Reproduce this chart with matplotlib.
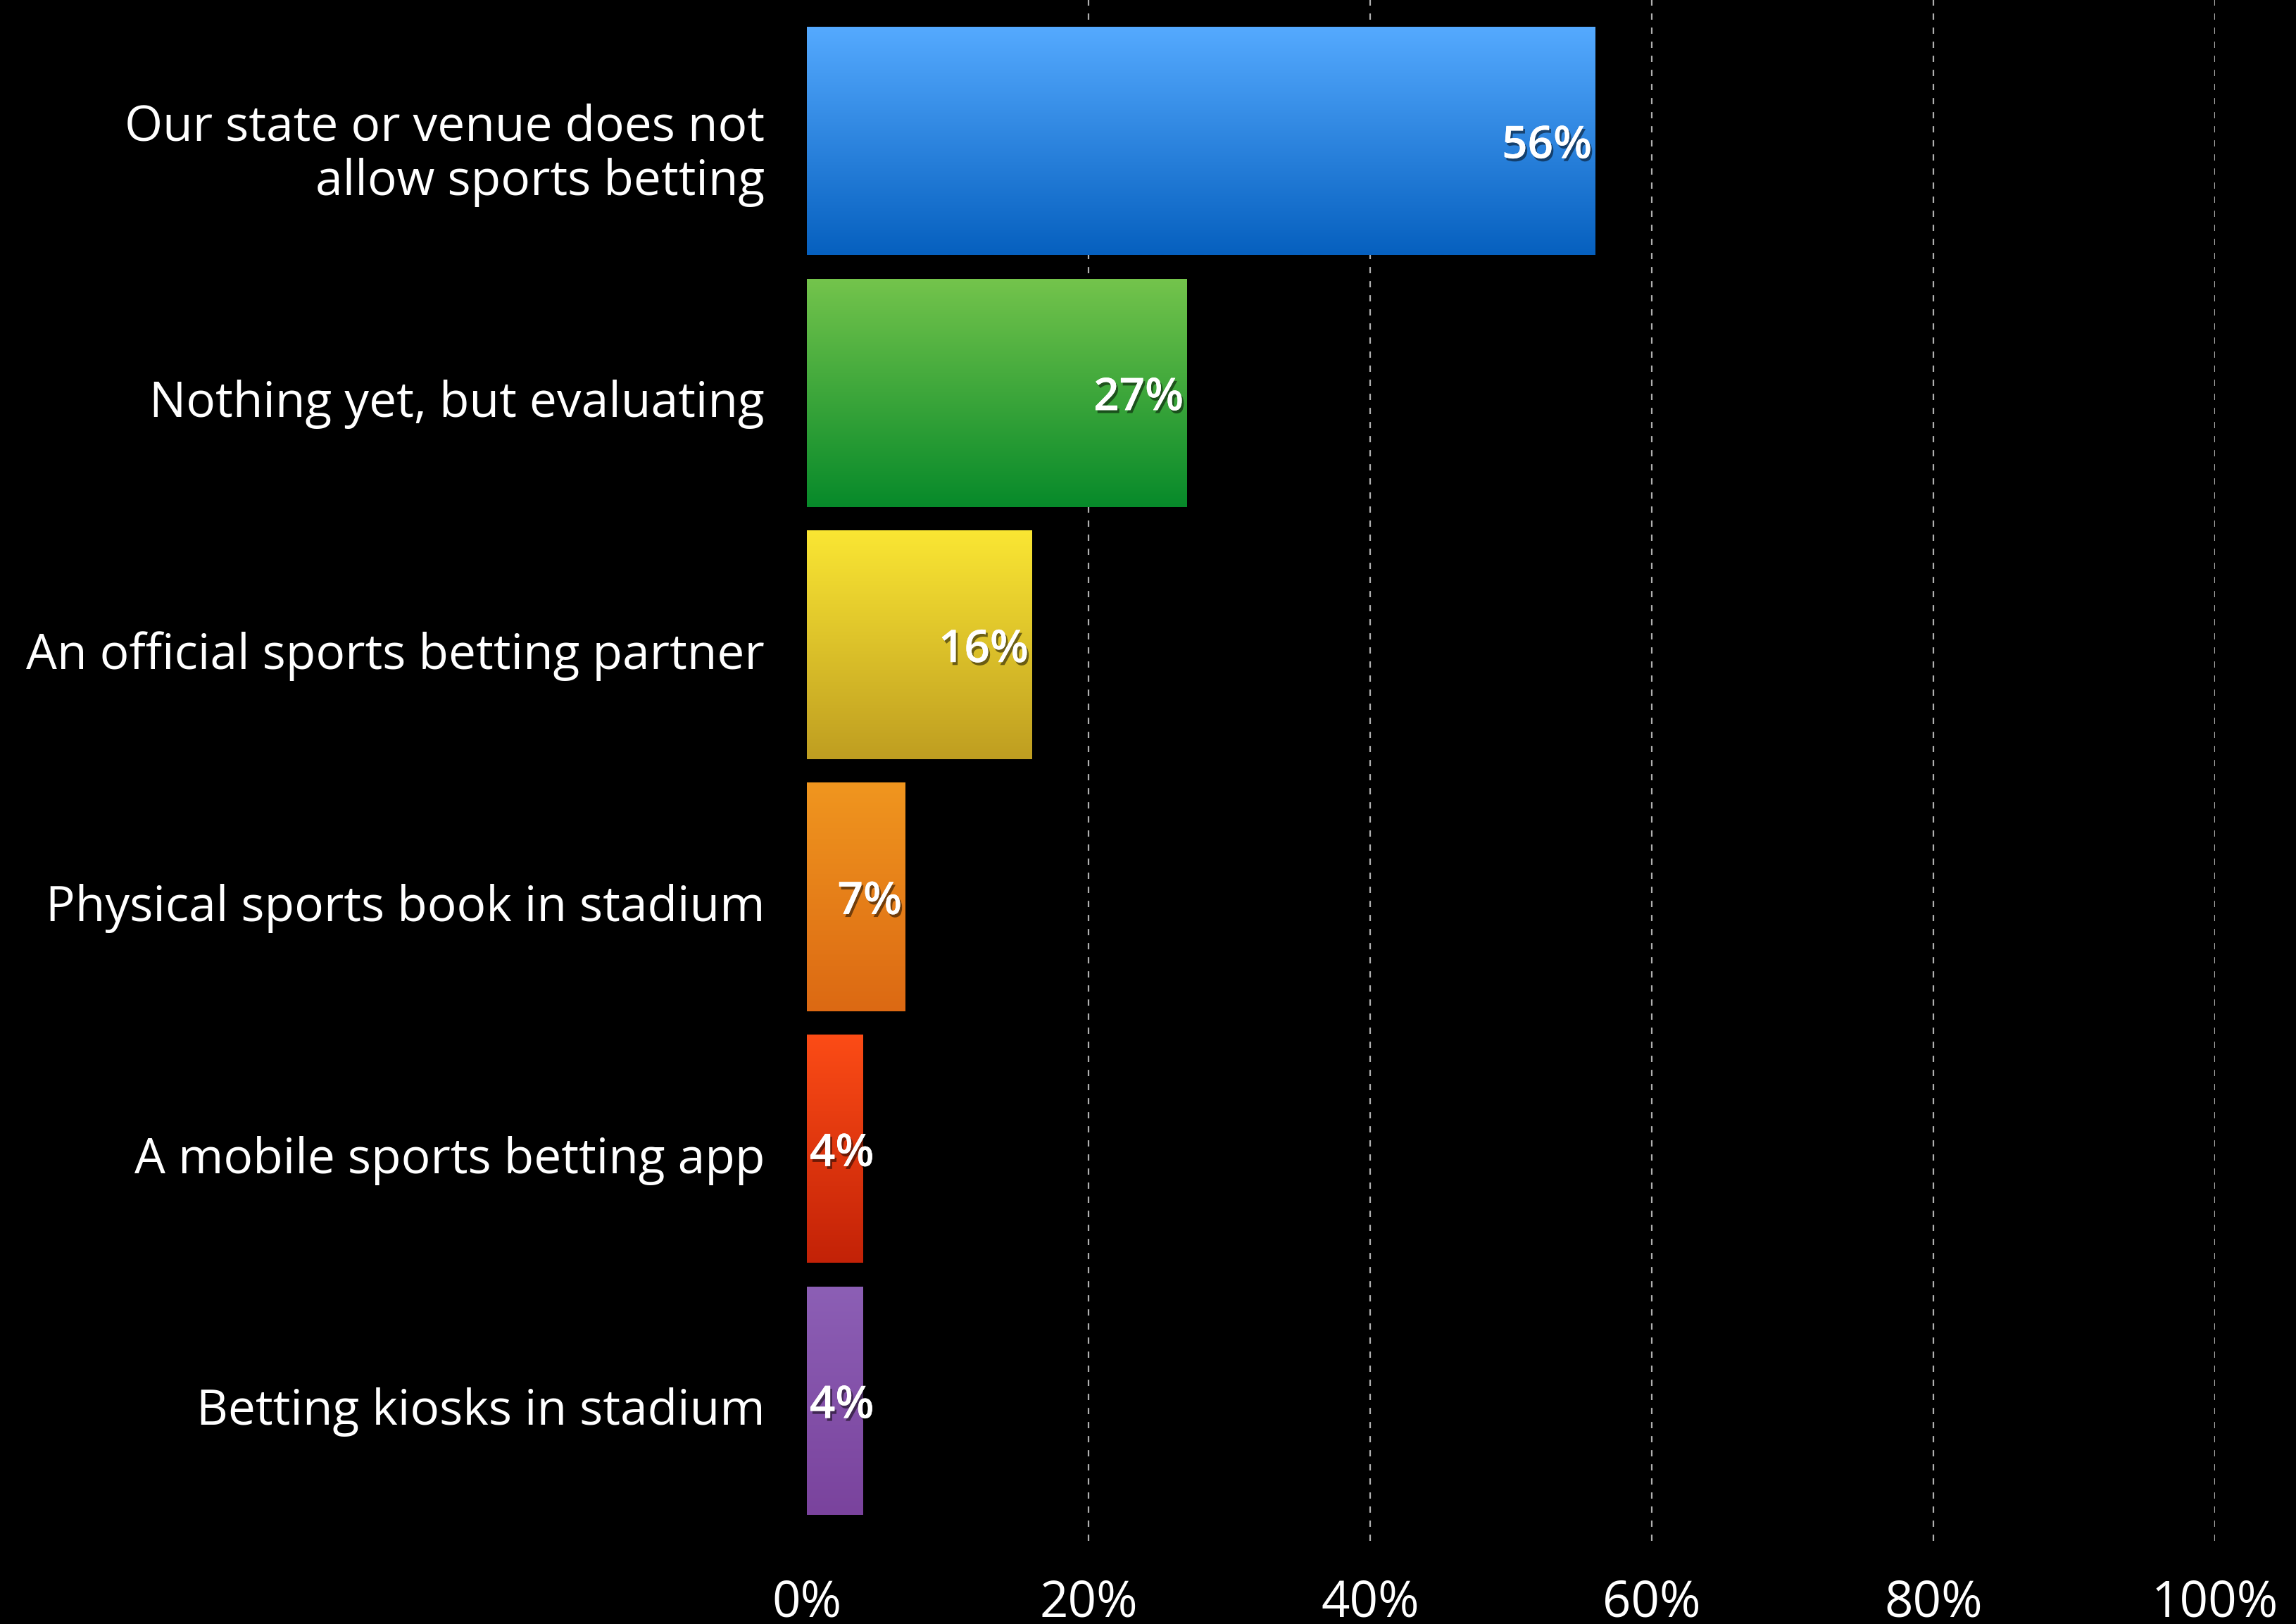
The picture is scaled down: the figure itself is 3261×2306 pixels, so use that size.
import numpy as np
import matplotlib
matplotlib.use("Agg")
import matplotlib.pyplot as plt
import matplotlib.patheffects as pe
import matplotlib.transforms as mtransforms
from matplotlib.colors import LinearSegmentedColormap

# dati del sondaggio
categorie = [
    "Our state or venue does not\nallow sports betting",
    "Nothing yet, but evaluating",
    "An official sports betting partner",
    "Physical sports book in stadium",
    "A mobile sports betting app",
    "Betting kiosks in stadium",
]
valori = [56, 27, 16, 7, 4, 4]
colori_alto = ["#55aaff", "#74c44c", "#fae633", "#f0961f", "#fc4c16", "#8c5fb5"]
colori_basso = ["#0660bf", "#078a2a", "#bf9e21", "#dc6913", "#c32207", "#7a439d"]
tick_x = [0, 20, 40, 60, 80, 100]
tick_lab = ["0%", "20%", "40%", "60%", "80%", "100%"]

plt.rcParams["font.family"] = ["Open Sans", "DejaVu Sans"]

fig = plt.figure(figsize=(32.61, 23.06), dpi=100, facecolor="black")
ax = fig.add_axes([0.3514, 0.0512, 0.6133, 0.9488])
ax.set_facecolor("black")

y = np.arange(len(valori))
barre = ax.barh(y, valori, height=0.907, color="none", zorder=2)

# riempimento sfumato dentro ogni barra
grad = np.linspace(0, 1, 256).reshape(-1, 1)
for i, b in enumerate(barre):
    cmap = LinearSegmentedColormap.from_list("g%d" % i, [colori_alto[i], colori_basso[i]])
    x0, y0 = b.get_x(), b.get_y()
    w, h = b.get_width(), b.get_height()
    im = ax.imshow(grad, cmap=cmap, aspect="auto", extent=(x0, x0 + w, y0 + h, y0),
                   origin="upper", zorder=2)
    im.set_clip_path(b)

# griglia tratteggiata
for gx in tick_x[1:]:
    ax.axvline(gx, color="#b0b0b0", lw=1.6, ls=(0, (4, 5)), zorder=1)

# piccolo spostamento verso il basso dei testi
giu = mtransforms.ScaledTranslation(0, -0.08, fig.dpi_scale_trans)

ombra = [pe.withSimplePatchShadow(offset=(2, -3), shadow_rgbFace="black", alpha=0.5), pe.Normal()]
for i, v in enumerate(valori):
    if v >= 6:
        ax.text(v - 0.25, y[i], "%d%%" % v, ha="right", va="center", color="white",
                fontsize=46, fontweight="semibold", zorder=4, path_effects=ombra,
                transform=ax.transData + giu)
    else:
        ax.text(0.2, y[i], "%d%%" % v, ha="left", va="center", color="white",
                fontsize=46, fontweight="semibold", zorder=4, path_effects=ombra,
                transform=ax.transData + giu)

ax.set_xlim(0, 100)
ax.set_ylim(5.556, -0.559)
ax.set_yticks(y)
ax.set_yticklabels(categorie, fontsize=50, color="white", linespacing=1.15)
ax.set_xticks(tick_x)
ax.set_xticklabels(tick_lab, fontsize=51, color="white")
ax.tick_params(axis="y", length=0, pad=43)
ax.tick_params(axis="x", length=0, pad=38)
for lab in ax.get_yticklabels():
    lab.set_transform(lab.get_transform() + giu)
for s in ax.spines.values():
    s.set_visible(False)

fig.savefig("out.png", dpi=100, facecolor="black")
